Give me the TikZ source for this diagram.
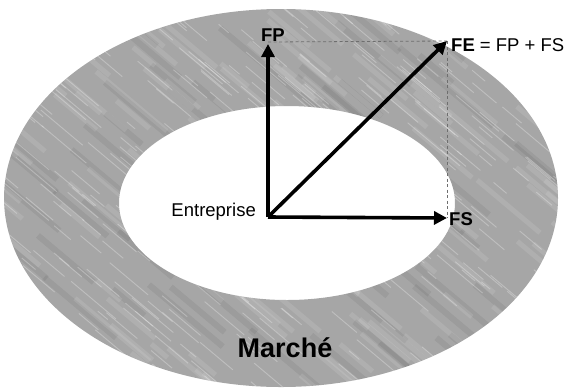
\documentclass[tikz,border=0pt]{standalone}
\usepackage{fontspec}
\setmainfont{Liberation Sans}
\usetikzlibrary{arrows.meta}
\definecolor{ringgray}{RGB}{166,166,166}
\definecolor{dashgray}{RGB}{110,110,110}
\tikzset{
  vec/.style={line width=3.6pt, draw=black, -{Triangle[length=13pt,width=13pt]}},
  guide/.style={dashed, draw=dashgray, line width=0.8pt, dash pattern=on 3pt off 2.5pt},
  lbl/.style={inner sep=0pt, font=\fontsize{18.5}{20}\selectfont},
  blbl/.style={inner sep=0pt, font=\fontsize{18.5}{20}\selectfont\bfseries},
  big/.style={inner sep=0pt, font=\fontsize{27}{30}\selectfont\bfseries},
  streak/.style={white, opacity=0.28, line width=0.9pt},
  lstreak/.style={white, opacity=0.1, line width=5pt},
  dstreak/.style={black, opacity=0.06, line width=6pt}
}
\begin{document}
\begin{tikzpicture}[x=1pt,y=-1pt]
\useasboundingbox (0,0) rectangle (569,389);
% ring
\fill[ringgray, even odd rule] (281,198) ellipse [x radius=277, y radius=189]
  (287,203) ellipse [x radius=168, y radius=97];
\begin{scope}[even odd rule]
  \clip (281,198) ellipse [x radius=277, y radius=189]
    (287,203) ellipse [x radius=168, y radius=97];
  \pgfmathsetseed{11}
  \foreach \i in {1,...,70}{
    \pgfmathsetmacro\xa{rnd*620-40}
    \pgfmathsetmacro\ya{rnd*440-20}
    \pgfmathsetmacro\len{40+rnd*100}
    \draw[dstreak] (\xa,\ya) -- ++(40:\len);
  }
  \foreach \i in {1,...,200}{
    \pgfmathsetmacro\xa{rnd*620-40}
    \pgfmathsetmacro\ya{rnd*440-20}
    \pgfmathsetmacro\len{20+rnd*80}
    \draw[lstreak] (\xa,\ya) -- ++(40:\len);
  }
  \foreach \i in {1,...,380}{
    \pgfmathsetmacro\xa{rnd*620-40}
    \pgfmathsetmacro\ya{rnd*440-20}
    \pgfmathsetmacro\len{10+rnd*50}
    \draw[streak] (\xa,\ya) -- ++(40:\len);
  }
\end{scope}
% vectors
\coordinate (O) at (268,217);
\coordinate (FPt) at (268,44);
\coordinate (FEt) at (447,41);
\coordinate (FSt) at (447,218);
\draw[guide] (268,42) -- (FEt);
\draw[guide] (FEt) -- (FSt);
\draw[vec] (O) -- (FPt);
\draw[vec] (O) -- (FEt);
\draw[vec] (O) -- (FSt);
% labels
\node[blbl, anchor=center] (FP) at (273,35) {FP};
\node[lbl, anchor=west] (FE) at (451,45) {\textbf{FE} = FP + FS};
\node[blbl, anchor=west] (FS) at (449,219) {FS};
\node[lbl, anchor=east] (ent) at (256,212) {Entreprise};
\node[big] (mar) at (285,348) {Marché};
\end{tikzpicture}
\end{document}
